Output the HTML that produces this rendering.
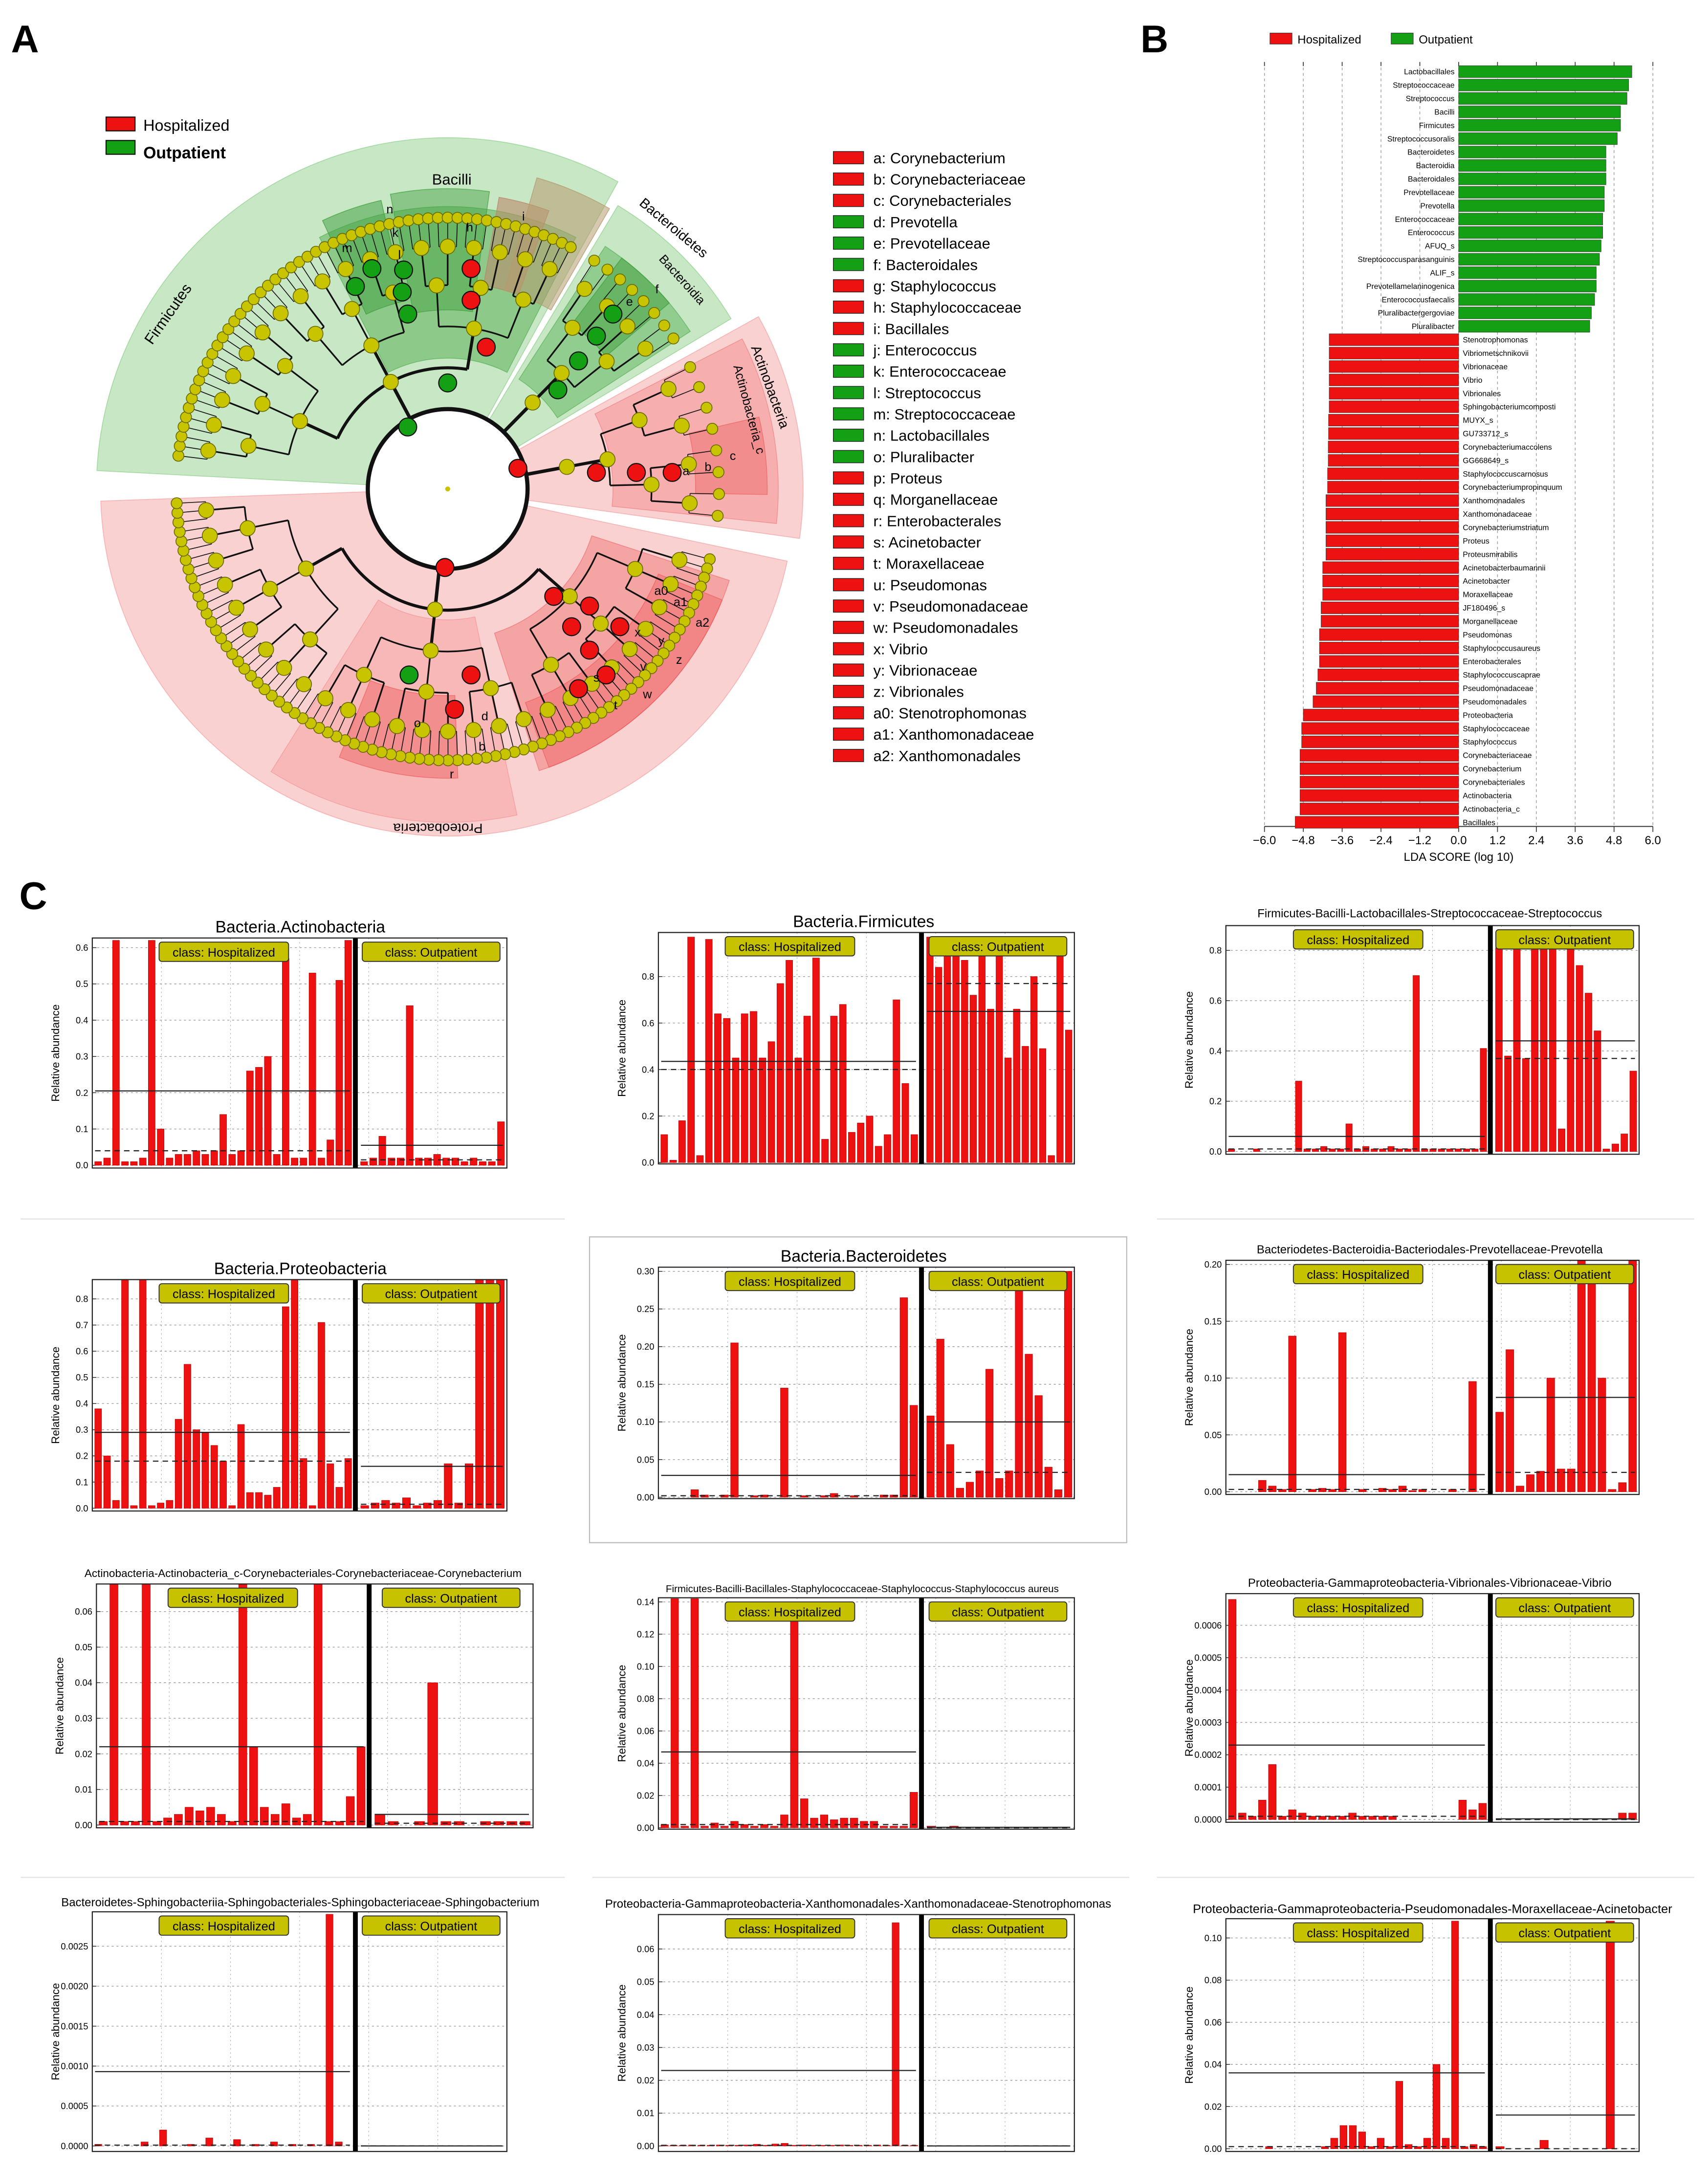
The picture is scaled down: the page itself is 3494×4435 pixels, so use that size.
<!DOCTYPE html>
<html><head><meta charset="utf-8"><title>LEfSe figure</title>
<style>
html,body{margin:0;padding:0;background:#fff;}
svg{display:block;}
text{font-family:"Liberation Sans",sans-serif;}
</style></head>
<body>
<svg id="fig" xmlns="http://www.w3.org/2000/svg" width="3494" height="4435" viewBox="0 0 1240 1574">
<rect x="0" y="0" width="1240" height="1574" fill="#fff"/>
</svg>
<script>
// ---------- Panel B data ----------
const ldaLabels=["Lactobacillales","Streptococcaceae","Streptococcus","Bacilli","Firmicutes","Streptococcusoralis","Bacteroidetes","Bacteroidia","Bacteroidales","Prevotellaceae","Prevotella","Enterococcaceae","Enterococcus","AFUQ_s","Streptococcusparasanguinis","ALIF_s","Prevotellamelaninogenica","Enterococcusfaecalis","Pluralibactergergoviae","Pluralibacter",
"Stenotrophomonas","Vibriometschnikovii","Vibrionaceae","Vibrio","Vibrionales","Sphingobacteriumcomposti","MUYX_s","GU733712_s","Corynebacteriumaccolens","GG668649_s","Staphylococcuscarnosus","Corynebacteriumpropinquum","Xanthomonadales","Xanthomonadaceae","Corynebacteriumstriatum","Proteus","Proteusmirabilis","Acinetobacterbaumannii","Acinetobacter","Moraxellaceae","JF180496_s","Morganellaceae","Pseudomonas","Staphylococcusaureus","Enterobacterales","Staphylococcuscaprae","Pseudomonadaceae","Pseudomonadales","Proteobacteria","Staphylococcaceae","Staphylococcus","Corynebacteriaceae","Corynebacterium","Corynebacteriales","Actinobacteria","Actinobacteria_c","Bacillales"];
const ldaScores=[5.35,5.25,5.2,5.0,5.0,4.9,4.55,4.55,4.55,4.5,4.5,4.45,4.45,4.4,4.35,4.25,4.25,4.2,4.1,4.05,
-4.0,-4.0,-4.0,-4.0,-4.0,-4.0,-4.02,-4.02,-4.03,-4.03,-4.05,-4.05,-4.1,-4.1,-4.1,-4.1,-4.1,-4.2,-4.2,-4.2,-4.25,-4.25,-4.3,-4.3,-4.3,-4.35,-4.4,-4.5,-4.8,-4.85,-4.85,-4.9,-4.9,-4.9,-4.9,-4.9,-5.05];
const ldaTicks=[-6.0,-4.8,-3.6,-2.4,-1.2,0.0,1.2,2.4,3.6,4.8,6.0];

// ---------- Panel C data ----------
const c1Hosp=[0.01,0.02,0.62,0.01,0.01,0.02,0.62,0.10,0.02,0.03,0.03,0.04,0.03,0.04,0.14,0.03,0.04,0.26,0.27,0.30,0.03,0.57,0.02,0.02,0.53,0.02,0.07,0.51,0.62];
const c1Out=[0.01,0.02,0.08,0.02,0.02,0.44,0.02,0.02,0.03,0.02,0.02,0.01,0.02,0.01,0.01,0.12];
const c1Mean=[0.205,0.055], c1Median=[0.04,0.015];
const c1Ticks=[0,0.1,0.2,0.3,0.4,0.5,0.6], c1TickLabels=["0.0","0.1","0.2","0.3","0.4","0.5","0.6"];

const c2Hosp=[0.12,0.01,0.18,0.97,0.03,0.96,0.64,0.62,0.45,0.64,0.65,0.45,0.52,0.77,0.87,0.45,0.63,0.88,0.10,0.63,0.68,0.13,0.17,0.20,0.07,0.12,0.70,0.34,0.12];
const c2Out=[0.97,0.84,0.90,0.97,0.87,0.72,0.97,0.66,0.97,0.45,0.66,0.50,0.80,0.49,0.03,0.97,0.57];
const c2Mean=[0.435,0.65], c2Median=[0.40,0.77];
const c2Ticks=[0,0.2,0.4,0.6,0.8], c2TickLabels=["0.0","0.2","0.4","0.6","0.8"];

const c3Hosp=[0.01,0,0,0.01,0,0,0,0,0.28,0.01,0.01,0.02,0.01,0.01,0.11,0.01,0.02,0.01,0.01,0.02,0.01,0.01,0.70,0.01,0.01,0.01,0.01,0.01,0.01,0.01,0.41];
const c3Out=[0.81,0.38,0.84,0.37,0.84,0.84,0.82,0.09,0.84,0.74,0.63,0.48,0.01,0.03,0.07,0.32];
const c3Mean=[0.06,0.44], c3Median=[0.01,0.37];
const c3Ticks=[0,0.2,0.4,0.6,0.8], c3TickLabels=["0.0","0.2","0.4","0.6","0.8"];

const c4Hosp=[0.38,0.2,0.03,0.88,0.01,0.88,0.01,0.02,0.03,0.34,0.55,0.30,0.29,0.24,0.18,0.01,0.32,0.06,0.06,0.05,0.08,0.77,0.88,0.19,0.01,0.71,0.17,0.08,0.19];
const c4Out=[0.01,0.02,0.03,0.02,0.04,0.01,0.02,0.03,0.17,0.02,0.17,0.88,0.88,0.88];
const c4Mean=[0.29,0.16], c4Median=[0.18,0.015];
const c4Ticks=[0,0.1,0.2,0.3,0.4,0.5,0.6,0.7,0.8], c4TickLabels=["0.0","0.1","0.2","0.3","0.4","0.5","0.6","0.7","0.8"];

const c5Hosp=[0,0,0,0.01,0.003,0,0.003,0.205,0,0.002,0.003,0,0.145,0,0.002,0,0.002,0.005,0,0.002,0,0,0.003,0.003,0.265,0.122];
const c5Out=[0.108,0.21,0.07,0.012,0.02,0.035,0.17,0.025,0.035,0.30,0.19,0.135,0.04,0.01,0.30];
const c5Mean=[0.029,0.10], c5Median=[0.002,0.033];
const c5Ticks=[0,0.05,0.10,0.15,0.20,0.25,0.30], c5TickLabels=["0.00","0.05","0.10","0.15","0.20","0.25","0.30"];

const c6Hosp=[0,0,0,0.01,0.005,0.002,0.137,0,0.002,0.003,0.002,0.14,0,0.002,0,0.003,0.002,0.005,0.001,0.002,0,0,0.002,0,0.097,0];
const c6Out=[0.07,0.125,0.005,0.015,0.018,0.1,0.02,0.02,0.24,0.185,0.1,0.002,0.008,0.24];
const c6Mean=[0.015,0.083], c6Median=[0.002,0.017];
const c6Ticks=[0,0.05,0.10,0.15,0.20], c6TickLabels=["0.00","0.05","0.10","0.15","0.20"];

const c7Hosp=[0.001,0.068,0.001,0.001,0.068,0.001,0.002,0.003,0.005,0.004,0.005,0.003,0.001,0.068,0.022,0.005,0.003,0.006,0.002,0.003,0.068,0.001,0.001,0.008,0.022];
const c7Out=[0.003,0.001,0,0.001,0.04,0.001,0.001,0,0.001,0.001,0.001,0.001];
const c7Mean=[0.022,0.003], c7Median=[0.001,0.0005];
const c7Ticks=[0,0.01,0.02,0.03,0.04,0.05,0.06], c7TickLabels=["0.00","0.01","0.02","0.03","0.04","0.05","0.06"];

const c8Hosp=[0.002,0.142,0.001,0.142,0.001,0.003,0.001,0.004,0.002,0.001,0.002,0.001,0.008,0.13,0.018,0.006,0.008,0.005,0.006,0.006,0.004,0.004,0.001,0.001,0.001,0.022];
const c8Out=[0.001,0,0.001,0,0,0,0,0,0,0,0,0,0];
const c8Mean=[0.047,0.0003], c8Median=[0.002,0];
const c8Ticks=[0,0.02,0.04,0.06,0.08,0.10,0.12,0.14], c8TickLabels=["0.00","0.02","0.04","0.06","0.08","0.10","0.12","0.14"];

const c9Hosp=[0.00068,0.00002,0.00001,0.00006,0.00017,0.00001,0.00003,0.00002,0.00001,0.00001,0.00001,0.00001,0.00002,0.00001,0.00001,0.00001,0.00001,0,0,0,0,0,0,0.00006,0.00003,0.00005];
const c9Out=[0,0,0,0,0,0,0,0,0,0,0,0,0.00002,0.00002];
const c9Mean=[0.00023,0.000002], c9Median=[0.00001,0];
const c9Ticks=[0,0.0001,0.0002,0.0003,0.0004,0.0005,0.0006], c9TickLabels=["0.0000","0.0001","0.0002","0.0003","0.0004","0.0005","0.0006"];

const c10Hosp=[0.00002,0,0,0,0,0.00005,0,0.0002,0,0,0.00002,0,0.0001,0,0,0.00008,0,0.00002,0,0.00005,0,0.00002,0,0.00002,0,0.0029,0.00005,0];
const c10Out=[0,0,0,0,0,0,0,0,0,0,0,0,0,0];
const c10Mean=[0.00093,0], c10Median=[0.00001,0];
const c10Ticks=[0,0.0005,0.0010,0.0015,0.0020,0.0025], c10TickLabels=["0.0000","0.0005","0.0010","0.0015","0.0020","0.0025"];

const c11Hosp=[0.0002,0.0002,0.0002,0.0003,0.0002,0.0002,0.0003,0.0002,0.0002,0.0003,0.0005,0.0002,0.0006,0.0008,0.0002,0.0003,0.0002,0.0002,0.0002,0.0003,0.0002,0.0002,0.0002,0.0003,0.0002,0.068,0.0002,0.0002];
const c11Out=[0,0,0,0,0,0,0,0,0,0,0,0,0,0];
const c11Mean=[0.023,0], c11Median=[0.0002,0];
const c11Ticks=[0,0.01,0.02,0.03,0.04,0.05,0.06], c11TickLabels=["0.00","0.01","0.02","0.03","0.04","0.05","0.06"];

const c12Hosp=[0,0,0,0,0.001,0,0,0,0,0,0.001,0.005,0.011,0.011,0.008,0.001,0.005,0.001,0.032,0.002,0.001,0.005,0.04,0.005,0.108,0.001,0.002,0.001];
const c12Out=[0.001,0,0,0,0.004,0,0,0,0,0,0.108,0,0];
const c12Mean=[0.036,0.016], c12Median=[0.001,0];
const c12Ticks=[0,0.02,0.04,0.06,0.08,0.10], c12TickLabels=["0.00","0.02","0.04","0.06","0.08","0.10"];

// ---------- helpers ----------
const NS="http://www.w3.org/2000/svg";
const fig=document.getElementById('fig');
function mk(tag,parent,attrs){const e=document.createElementNS(NS,tag);for(const k in attrs)e.setAttribute(k,attrs[k]);parent.appendChild(e);return e;}
function txt(parent,x,y,s,attrs){const e=mk('text',parent,Object.assign({x:x,y:y},attrs||{}));e.textContent=s;return e;}

// ---------- Panel letters ----------
[["A",8,38],["B",828,38],["C",14,660]].forEach(p=>{
  const t=txt(fig,p[1],p[2],p[0],{"font-size":28,"font-weight":"bold"});
  
  
});

// ---------- Panel A: cladogram ----------
const gA=mk('g',fig,{});


const cx=325, cy=355;
function pol(r,a){const t=a*Math.PI/180;return [cx+r*Math.cos(t),cy+r*Math.sin(t)];}
function wedge(r0,r1,a0,a1,fill,op,name){
  const p1=pol(r1,a0),p2=pol(r1,a1),p3=pol(r0,a1),p4=pol(r0,a0);
  const lg=(a1-a0)>180?1:0;
  const d=`M${p4[0]},${p4[1]}L${p1[0]},${p1[1]}A${r1},${r1} 0 ${lg} 1 ${p2[0]},${p2[1]}L${p3[0]},${p3[1]}A${r0},${r0} 0 ${lg} 0 ${p4[0]},${p4[1]}Z`;
  const e=mk('path',gA,{d:d,fill:fill,"fill-opacity":op,stroke:fill,"stroke-opacity":Math.min(1,op+0.2),"stroke-width":0.6});
  
  
  return e;
}
wedge(58,255,183,299,"#8fcf8c",0.5,"firmicutes-clade");
wedge(58,240,301,329,"#8fcf8c",0.5,"bacteroidetes-clade");
wedge(58,258,331,368,"#f59a9a",0.45,"actinobacteria-clade");
wedge(58,252,12,178,"#f59a9a",0.45,"proteobacteria-clade");
wedge(95,205,243,297,"#5cb35a",0.55,"bacilli-clade");
wedge(140,215,245,257,"#3e9e3c",0.5,"m-clade");
wedge(130,218,259,278,"#3e9e3c",0.45,"n-k-clade");
wedge(150,215,280,290,"#b98a6a",0.6,"h-clade");
wedge(150,235,286,300,"#b69a70",0.55,"i-clade");
wedge(95,210,303,327,"#5cb35a",0.5,"bacteroidia-clade");
wedge(150,210,307,320,"#3e9e3c",0.5,"e-f-clade");
wedge(120,240,333,366,"#f07a7a",0.4,"actinobacteria-c-clade");
wedge(180,232,347,361,"#ee5c5c",0.4,"a-b-c-clade");
wedge(110,215,18,72,"#ef6d6d",0.45,"gamma-clade");
wedge(165,215,22,70,"#ee5050",0.35,"vibrio-pseudomonas-clade");
wedge(95,242,78,122,"#f48a8a",0.35,"r-clade");
wedge(150,210,88,112,"#ee5c5c",0.45,"b-d-o-clade");

const R=[58,88,118,148,176,197,212];
const nodes=[];
const treeG=mk('g',gA,{stroke:"#111",fill:"none"});


function arcPath(r,a0,a1){const p=pol(r,a0),q=pol(r,a1);return `M${p[0]},${p[1]}A${r},${r} 0 0 1 ${q[0]},${q[1]}`;}
function tree(level,a0,a1,br){
  const mid=(a0+a1)/2;nodes.push([level,mid]);
  if(!br.length)return;
  const k=br[0],step=(a1-a0)/k;const mids=[];
  for(let i=0;i<k;i++)mids.push(a0+step*(i+0.5));
  const w=level<=1?2.2:(level<=3?1.2:0.6);
  if(k>1)mk('path',treeG,{d:arcPath(R[level],mids[0],mids[k-1]),"stroke-width":w});
  mids.forEach((m,i)=>{const p=pol(R[level],m),q=pol(R[level+1],m);
    mk('line',treeG,{x1:p[0],y1:p[1],x2:q[0],y2:q[1],"stroke-width":w});
    tree(level+1,a0+step*i,a0+step*(i+1),br.slice(1));});
}
const phyla=[[186,298,[3,3,2,3]],[301,328,[1,2,2,2]],[331,368,[1,2,2,2]],[14,178,[3,3,3,3]]];
phyla.forEach(p=>{const m=(p[0]+p[1])/2;const a=pol(R[0],m),b=pol(R[1],m);
  mk('line',treeG,{x1:a[0],y1:a[1],x2:b[0],y2:b[1],"stroke-width":2.5});
  tree(1,p[0],p[1],p[2]);});
const inner=mk('circle',gA,{cx:cx,cy:cy,r:R[0],fill:"#fff",stroke:"#111","stroke-width":3});


mk('circle',gA,{cx:cx,cy:cy,r:1.8,fill:"#c9c300"});
const nodeG=mk('g',gA,{});


nodes.forEach(n=>{const p=pol(R[n[0]],n[1]);
  mk('circle',nodeG,{cx:p[0],cy:p[1],r:n[0]>=5?4:5.5,fill:"#c8c400",stroke:"#6a6a00","stroke-width":0.6});});
const hl=[["g",296,310],["g",325,278],["g",296,228],["g",258,208],["g",292,212],["g",293,196],["g",270,195],["g",405,283],["g",420,262],["g",433,244],["g",445,228],["g",297,490],
["r",376,340],["r",433,343],["r",462,343],["r",488,343],["r",342,195],["r",342,218],["r",353,252],["r",323,412],["r",402,433],["r",415,455],["r",428,472],["r",440,490],["r",428,440],["r",342,490],["r",330,515],["r",450,455],["r",420,500]];
hl.forEach(h=>{const c=mk('circle',nodeG,{cx:h[1],cy:h[2],r:6.5,fill:h[0]=="g"?"#14a014":"#ee1111",stroke:"#111","stroke-width":0.8});
  
  });
const cl=[["Firmicutes",125,230,-55,11],["Bacilli",328,134,0,11],["Bacteroidetes",487,168,40,10],["Bacteroidia",493,205,48,9],["Actinobacteria",556,282,70,10],["Actinobacteria_c",541,298,75,9],["Proteobacteria",318,598,180,10]];
cl.forEach(c=>{const t=txt(gA,c[1],c[2],c[0],{"font-size":c[4],"text-anchor":"middle",transform:`rotate(${c[3]} ${c[1]} ${c[2]})`});
  
  });
const ll=[["m",252,183],["n",283,155],["k",287,172],["l",290,188],["h",341,168],["i",380,160],["e",457,222],["f",477,213],["c",532,334],["b",514,342],["a",498,345],["a2",510,455],["a1",494,440],["a0",480,432],["z",493,482],["y",480,468],["x",463,462],["v",467,487],["w",470,507],["t",447,515],["s",433,495],["b",350,545],["d",352,523],["o",303,528],["r",328,565]];
ll.forEach(l=>{const t=txt(gA,l[1],l[2],l[0],{"font-size":9,"text-anchor":"middle"});
  
  });

// Panel A legends
const lgA=mk('g',fig,{});


mk('rect',lgA,{x:77,y:85,width:21,height:10,fill:"#ee1111",stroke:"#111","stroke-width":0.8});
txt(lgA,104,95,"Hospitalized",{"font-size":11.5});
mk('rect',lgA,{x:77,y:102,width:21,height:10,fill:"#14a014",stroke:"#111","stroke-width":0.8});
txt(lgA,104,115,"Outpatient",{"font-size":12,"font-weight":"bold","font-family":"Liberation Serif, serif"});
const letters=["a: Corynebacterium","b: Corynebacteriaceae","c: Corynebacteriales","d: Prevotella","e: Prevotellaceae","f: Bacteroidales","g: Staphylococcus","h: Staphylococcaceae","i: Bacillales","j: Enterococcus","k: Enterococcaceae","l: Streptococcus","m: Streptococcaceae","n: Lactobacillales","o: Pluralibacter","p: Proteus","q: Morganellaceae","r: Enterobacterales","s: Acinetobacter","t: Moraxellaceae","u: Pseudomonas","v: Pseudomonadaceae","w: Pseudomonadales","x: Vibrio","y: Vibrionaceae","z: Vibrionales","a0: Stenotrophomonas","a1: Xanthomonadaceae","a2: Xanthomonadales"];
const letterGreen=["d","e","f","j","k","l","m","n","o"];
const lgL=mk('g',fig,{});


letters.forEach((s,i)=>{const y=115+i*15.5;const k=s.split(":")[0];
  const r=mk('rect',lgL,{x:605,y:y-5,width:22,height:9,fill:letterGreen.includes(k)?"#14a014":"#ee1111",stroke:"#222","stroke-width":0.5});
  
  
  const t=txt(lgL,634,y+3.5,s,{"font-size":11});
  
  });

// ---------- Panel B ----------
const gB=mk('g',fig,{});


const bx0=918,bx1=1200,bz=1059;
function xB(v){return bz+v*(bx1-bx0)/12;}
const lg=mk('g',gB,{});


mk('rect',lg,{x:922,y:24,width:16,height:8,fill:"#ee1111",stroke:"#333","stroke-width":0.4});
txt(lg,942,31.5,"Hospitalized",{"font-size":8.5});
mk('rect',lg,{x:1010,y:24,width:16,height:8,fill:"#14a014",stroke:"#333","stroke-width":0.4});
txt(lg,1030,31.5,"Outpatient",{"font-size":8.5});
ldaTicks.forEach(v=>{const x=xB(v);
  const g=mk('line',gB,{x1:x,y1:45,x2:x,y2:600,stroke:"#999","stroke-width":0.5,"stroke-dasharray":"2,2"});
  
  
  mk('line',gB,{x1:x,y1:600,x2:x,y2:604,stroke:"#333","stroke-width":0.6});
  mk('line',gB,{x1:x,y1:45,x2:x,y2:48,stroke:"#333","stroke-width":0.6});
  const t=txt(gB,x,613,(v<0?"\u2212":"")+Math.abs(v).toFixed(1),{"font-size":8.5,"text-anchor":"middle"});
  
  });
mk('line',gB,{x1:bx0,y1:600,x2:bx1,y2:600,stroke:"#333","stroke-width":0.7});
const xt=txt(gB,bz,625,"LDA SCORE (log 10)",{"font-size":8.5,"text-anchor":"middle"});


const bTop=52,bStep=(597-52)/(ldaLabels.length-1);
ldaLabels.forEach((lab,i)=>{const v=ldaScores[i];const yc=bTop+i*bStep;
  const x0=Math.min(xB(0),xB(v)),w=Math.abs(xB(v)-xB(0));
  const r=mk('rect',gB,{x:x0,y:yc-4.3,width:w,height:8.6,fill:v>0?"#14a014":"#ee1111",stroke:"#333","stroke-width":0.3});
  
  
  const t=txt(gB,v>0?bz-3:bz+3,yc+2,lab,{"font-size":5.6,"text-anchor":v>0?"end":"start"});
  
  });

// ---------- Panel C ----------
const charts=[
 {t:"Bacteria.Actinobacteria",h:c1Hosp,o:c1Out,m:c1Mean,md:c1Median,tk:c1Ticks,tl:c1TickLabels,b:[67,681,368,848],dv:258,tx:218,ty:677,ts:12,yz:846,tv:0.6,tyy:688},
 {t:"Bacteria.Firmicutes",h:c2Hosp,o:c2Out,m:c2Mean,md:c2Median,tk:c2Ticks,tl:c2TickLabels,b:[478,677,780,845],dv:669,tx:627,ty:673,ts:12,yz:844,tv:0.8,tyy:709},
 {t:"Firmicutes-Bacilli-Lactobacillales-Streptococcaceae-Streptococcus",h:c3Hosp,o:c3Out,m:c3Mean,md:c3Median,tk:c3Ticks,tl:c3TickLabels,b:[890,672,1190,838],dv:1082,tx:1038,ty:666,ts:8.5,yz:836,tv:0.8,tyy:690},
 {t:"Bacteria.Proteobacteria",h:c4Hosp,o:c4Out,m:c4Mean,md:c4Median,tk:c4Ticks,tl:c4TickLabels,b:[67,929,368,1097],dv:258,tx:218,ty:925,ts:12,yz:1095,tv:0.8,tyy:943},
 {t:"Bacteria.Bacteroidetes",h:c5Hosp,o:c5Out,m:c5Mean,md:c5Median,tk:c5Ticks,tl:c5TickLabels,b:[478,920,780,1088],dv:669,tx:627,ty:916,ts:12,yz:1087,tv:0.30,tyy:923},
 {t:"Bacteriodetes-Bacteroidia-Bacteriodales-Prevotellaceae-Prevotella",h:c6Hosp,o:c6Out,m:c6Mean,md:c6Median,tk:c6Ticks,tl:c6TickLabels,b:[890,915,1190,1085],dv:1082,tx:1038,ty:910,ts:8.5,yz:1083,tv:0.20,tyy:918},
 {t:"Actinobacteria-Actinobacteria_c-Corynebacteriales-Corynebacteriaceae-Corynebacterium",h:c7Hosp,o:c7Out,m:c7Mean,md:c7Median,tk:c7Ticks,tl:c7TickLabels,b:[70,1150,387,1327],dv:268,tx:220,ty:1145,ts:8,yz:1325,tv:0.06,tyy:1170},
 {t:"Firmicutes-Bacilli-Bacillales-Staphylococcaceae-Staphylococcus-Staphylococcus aureus",h:c8Hosp,o:c8Out,m:c8Mean,md:c8Median,tk:c8Ticks,tl:c8TickLabels,b:[478,1160,780,1328],dv:669,tx:626,ty:1156,ts:7.3,yz:1327,tv:0.14,tyy:1163},
 {t:"Proteobacteria-Gammaproteobacteria-Vibrionales-Vibrionaceae-Vibrio",h:c9Hosp,o:c9Out,m:c9Mean,md:c9Median,tk:c9Ticks,tl:c9TickLabels,b:[890,1157,1190,1323],dv:1082,tx:1038,ty:1152,ts:8.5,yz:1321,tv:0.0006,tyy:1180},
 {t:"Bacteroidetes-Sphingobacteriia-Sphingobacteriales-Sphingobacteriaceae-Sphingobacterium",h:c10Hosp,o:c10Out,m:c10Mean,md:c10Median,tk:c10Ticks,tl:c10TickLabels,b:[67,1388,368,1562],dv:258,tx:218,ty:1384,ts:8.5,yz:1558,tv:0.0025,tyy:1413},
 {t:"Proteobacteria-Gammaproteobacteria-Xanthomonadales-Xanthomonadaceae-Stenotrophomonas",h:c11Hosp,o:c11Out,m:c11Mean,md:c11Median,tk:c11Ticks,tl:c11TickLabels,b:[478,1390,780,1562],dv:669,tx:623,ty:1385,ts:8.5,yz:1558,tv:0.06,tyy:1415},
 {t:"Proteobacteria-Gammaproteobacteria-Pseudomonadales-Moraxellaceae-Acinetobacter",h:c12Hosp,o:c12Out,m:c12Mean,md:c12Median,tk:c12Ticks,tl:c12TickLabels,b:[890,1393,1190,1562],dv:1082,tx:1040,ty:1389,ts:9,yz:1560,tv:0.10,tyy:1407}
];
// panel separators / frame
[[15,885,410,885],[840,885,1230,885],[15,1363,410,1363],[840,1363,1230,1363],[430,1363,820,1363]].forEach(s=>{
  const l=mk('line',fig,{x1:s[0],y1:s[1],x2:s[2],y2:s[3],stroke:"#e2e2e2","stroke-width":0.8});
  
  });
const fr=mk('rect',fig,{x:428,y:898,width:390,height:222,fill:"none",stroke:"#bbb","stroke-width":0.8});



charts.forEach((c,ci)=>{
  const g=mk('g',fig,{});
  
  
  const [x0,y0,x1,y1]=c.b;
  const k=(c.yz-c.tyy)/c.tv;
  const yS=v=>Math.max(y0,c.yz-v*k);
  const tt=txt(g,c.tx,c.ty,c.t,{"font-size":c.ts,"text-anchor":"middle"});
  
  
  mk('rect',g,{x:x0,y:y0,width:x1-x0,height:y1-y0,fill:"#fff"});
  // vertical dotted grid
  for(let i=1;i<6;i++){const x=x0+(x1-x0)*i/6;
    mk('line',g,{x1:x,y1:y0,x2:x,y2:y1,stroke:"#aaa","stroke-width":0.4,"stroke-dasharray":"1,2"});}
  c.tk.forEach((v,i)=>{const y=yS(v);
    const gl=mk('line',g,{x1:x0,y1:y,x2:x1,y2:y,stroke:"#999","stroke-width":0.5,"stroke-dasharray":"1.5,2"});
    
    
    mk('line',g,{x1:x0,y1:y,x2:x0+3,y2:y,stroke:"#222","stroke-width":0.5});
    const t=txt(g,x0-3,y+2.3,c.tl[i],{"font-size":6.5,"text-anchor":"end"});
    
    });
  const ya=(y0+y1)/2, yx=x0-24;
  const yl=txt(g,yx,ya,"Relative abundance",{"font-size":8,"text-anchor":"middle",transform:`rotate(-90 ${yx} ${ya})`});
  
  
  function bars(vals,a,b,cls){const n=vals.length,st=(b-a)/n;
    vals.forEach((v,i)=>{const y=yS(v);
      const r=mk('rect',g,{x:a+i*st+st*0.12,y:y,width:st*0.76,height:Math.max(0,c.yz-y),fill:"#ee1111",stroke:"#b00","stroke-width":0.3});
      
      });}
  const ha=x0+1,hb=c.dv-2,oa=c.dv+3,ob=x1-1;
  bars(c.h,ha,hb,'hospitalized');
  bars(c.o,oa,ob,'outpatient');
  [[ha,hb,0],[oa,ob,1]].forEach(s=>{
    const m=mk('line',g,{x1:s[0]+1,y1:yS(c.m[s[2]]),x2:s[1]-2,y2:yS(c.m[s[2]]),stroke:"#222","stroke-width":0.8});
    
    
    const d=mk('line',g,{x1:s[0]+1,y1:yS(c.md[s[2]]),x2:s[1]-2,y2:yS(c.md[s[2]]),stroke:"#222","stroke-width":0.8,"stroke-dasharray":"4,3"});
    
    });
  const dvl=mk('line',g,{x1:c.dv,y1:y0,x2:c.dv,y2:y1,stroke:"#000","stroke-width":3.5});
  
  
  mk('rect',g,{x:x0,y:y0,width:x1-x0,height:y1-y0,fill:"none",stroke:"#222","stroke-width":0.8});
  [[ (x0+c.dv)/2,94,"class: Hospitalized","class-header-hospitalized"],[(c.dv+x1)/2,100,"class: Outpatient","class-header-outpatient"]].forEach(hh=>{
    const w=Math.min(hh[1],(hh[3].includes('out')?x1-c.dv-4:hh[1]));
    const r=mk('rect',g,{x:hh[0]-w/2,y:y0+3,width:w,height:14,rx:2,fill:"#c6c200",stroke:"#333","stroke-width":0.7});
    
    
    txt(g,hh[0],y0+13.5,hh[2],{"font-size":9,"text-anchor":"middle"});});
});
</script>
</body></html>
